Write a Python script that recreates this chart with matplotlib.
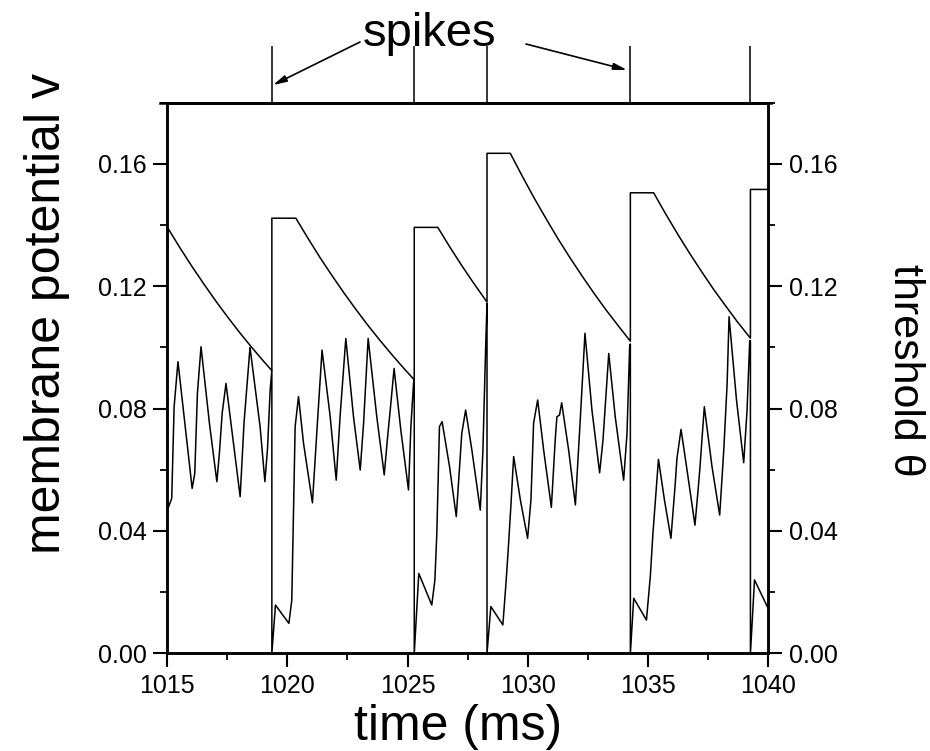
import matplotlib
matplotlib.use("Agg")
import matplotlib.pyplot as plt
from matplotlib.ticker import MultipleLocator, FormatStrFormatter

plt.rcParams["font.family"] = ["Liberation Sans", "DejaVu Sans"]

# membrane potential v (time in ms)
v_t = [
    1015.00, 1015.18, 1015.28, 1015.44, 1016.03, 1016.14, 1016.25, 1016.40,
    1016.75, 1017.06, 1017.17, 1017.28, 1017.44, 1018.03, 1018.19, 1018.44,
    1018.86, 1019.06, 1019.17, 1019.28, 1019.35,
    1019.35, 1019.50, 1020.06, 1020.18, 1020.32, 1020.46, 1020.67, 1021.04,
    1021.25, 1021.44, 1021.78, 1022.03, 1022.19, 1022.43, 1022.75, 1023.03,
    1023.17, 1023.36, 1023.72, 1024.03, 1024.19, 1024.28, 1024.44, 1024.72,
    1025.04, 1025.14, 1025.25, 1025.28,
    1025.28, 1025.47, 1026.01, 1026.14, 1026.22, 1026.33, 1026.44, 1026.75,
    1027.03, 1027.26, 1027.42, 1027.68, 1028.03, 1028.14, 1028.25, 1028.31,
    1028.31, 1028.47, 1028.97, 1029.11, 1029.21, 1029.31, 1029.42, 1029.70,
    1030.00, 1030.14, 1030.25, 1030.42, 1030.67, 1030.99, 1031.15, 1031.22,
    1031.33, 1031.42, 1031.71, 1031.99, 1032.20, 1032.39, 1032.68, 1033.00,
    1033.14, 1033.38, 1033.65, 1034.00, 1034.14, 1034.25, 1034.28,
    1034.28, 1034.42, 1034.95, 1035.11, 1035.22, 1035.45, 1035.70, 1035.97,
    1036.15, 1036.22, 1036.39, 1036.64, 1036.97, 1037.10, 1037.17, 1037.36,
    1037.68, 1038.00, 1038.17, 1038.31, 1038.39, 1038.70, 1039.00, 1039.14,
    1039.25, 1039.28,
    1039.28, 1039.45, 1039.95, 1040.00,
]
v_val = [
    0.0468, 0.0507, 0.0806, 0.0953, 0.0539, 0.0588, 0.0850, 0.1002,
    0.0752, 0.0561, 0.0659, 0.0784, 0.0882, 0.0512, 0.0752, 0.1000,
    0.0741, 0.0561, 0.0670, 0.0861, 0.0924,
    0.0000, 0.0158, 0.0098, 0.0174, 0.0741, 0.0839, 0.0686, 0.0492,
    0.0757, 0.0991, 0.0773, 0.0566, 0.0773, 0.1029, 0.0773, 0.0599,
    0.0752, 0.1029, 0.0773, 0.0583, 0.0724, 0.0795, 0.0931, 0.0730,
    0.0534, 0.0741, 0.0882, 0.0895,
    0.0000, 0.0261, 0.0158, 0.0240, 0.0392, 0.0741, 0.0757, 0.0610,
    0.0447, 0.0719, 0.0795, 0.0664, 0.0468, 0.0664, 0.0991, 0.1144,
    0.0000, 0.0153, 0.0093, 0.0240, 0.0359, 0.0490, 0.0643, 0.0501,
    0.0376, 0.0501, 0.0752, 0.0828, 0.0664, 0.0477, 0.0697, 0.0773,
    0.0779, 0.0819, 0.0664, 0.0485, 0.0773, 0.1046, 0.0795, 0.0590,
    0.0697, 0.0980, 0.0773, 0.0566, 0.0719, 0.1002, 0.1011,
    0.0000, 0.0180, 0.0109, 0.0251, 0.0392, 0.0634, 0.0501, 0.0376,
    0.0556, 0.0637, 0.0732, 0.0599, 0.0419, 0.0534, 0.0599, 0.0806,
    0.0610, 0.0452, 0.0664, 0.0882, 0.1100, 0.0828, 0.0623, 0.0795,
    0.1022, 0.1022,
    0.0000, 0.0240, 0.0158, 0.0150,
]

# threshold theta
theta_t = [
    1015.00, 1015.50, 1016.00, 1016.50, 1017.00, 1017.50, 1018.00, 1018.50,
    1019.00, 1019.35,
    1019.35, 1020.35, 1020.85, 1021.35, 1021.85, 1022.35, 1022.85, 1023.35,
    1023.85, 1024.35, 1024.85, 1025.28,
    1025.28, 1026.26, 1026.76, 1027.26, 1027.76, 1028.31,
    1028.31, 1029.28, 1029.78, 1030.28, 1030.78, 1031.28, 1031.78, 1032.28,
    1032.78, 1033.28, 1033.78, 1034.28,
    1034.28, 1035.25, 1035.75, 1036.25, 1036.75, 1037.25, 1037.75, 1038.25,
    1038.75, 1039.28,
    1039.28, 1040.00,
]
theta_val = [
    0.1392, 0.1328, 0.1267, 0.1209, 0.1153, 0.1100, 0.1049, 0.1001,
    0.0955, 0.0924,
    0.1422, 0.1422, 0.1357, 0.1294, 0.1235, 0.1178, 0.1124, 0.1072,
    0.1023, 0.0976, 0.0931, 0.0894,
    0.1392, 0.1392, 0.1328, 0.1267, 0.1209, 0.1148,
    0.1634, 0.1634, 0.1559, 0.1487, 0.1419, 0.1353, 0.1291, 0.1232,
    0.1175, 0.1121, 0.1070, 0.1020,
    0.1505, 0.1505, 0.1436, 0.1370, 0.1307, 0.1247, 0.1189, 0.1135,
    0.1082, 0.1030,
    0.1516, 0.1516,
]

spike_times = [1019.35, 1025.28, 1028.31, 1034.28, 1039.28]

fig = plt.figure(figsize=(9.3, 7.51), dpi=100)
ax = fig.add_axes([0.180, 0.130, 0.6455, 0.7335])

ax.plot(v_t, v_val, color="black", lw=1.1)
ax.plot(theta_t, theta_val, color="black", lw=1.1)

ax.set_xlim(1015, 1040)
ax.set_ylim(0, 0.18)

# spike raster above the frame
ax.vlines(spike_times, 0.18, 0.1985, color="black", lw=1.1, clip_on=False)
ax.plot([-0.012, 1.0055], [1, 1], transform=ax.transAxes, color="black",
        lw=1.8, clip_on=False)

ax.xaxis.set_major_locator(MultipleLocator(5))
ax.xaxis.set_minor_locator(MultipleLocator(2.5))
ax.yaxis.set_major_locator(MultipleLocator(0.04))
ax.yaxis.set_minor_locator(MultipleLocator(0.02))
ax.yaxis.set_major_formatter(FormatStrFormatter("%.2f"))

ax2 = ax.twinx()
ax2.set_ylim(0, 0.18)
ax2.yaxis.set_major_locator(MultipleLocator(0.04))
ax2.yaxis.set_minor_locator(MultipleLocator(0.02))
ax2.yaxis.set_major_formatter(FormatStrFormatter("%.2f"))

for a in (ax, ax2):
    a.tick_params(which="major", direction="out", length=10, width=1.5,
                  labelsize=18, pad=5)
    a.tick_params(which="minor", direction="out", length=5, width=1.3)
    for s in a.spines.values():
        s.set_linewidth(1.8)
ax.tick_params(top=False, right=False)
ax2.tick_params(left=False)

fig.text(458 / 930, 1 - 740 / 751, "time (ms)", fontsize=36,
         ha="center", va="baseline")
fig.text(47 / 930, 1 - 313 / 751, "membrane potential v", fontsize=36,
         rotation=90, ha="center", va="center")
fig.text(905 / 930, 1 - 370 / 751, "threshold θ", fontsize=31,
         rotation=-90, ha="center", va="center")

fig.text(430 / 930, 1 - 46 / 751, "spikes", fontsize=34,
         ha="center", va="baseline")
arrow = dict(arrowstyle="-|>,head_length=0.8,head_width=0.2",
             color="black", lw=1.2, shrinkA=0, shrinkB=0)
ax.annotate("", xy=(273, 751 - 85), xycoords="figure pixels",
            xytext=(360, 751 - 42), textcoords="figure pixels",
            arrowprops=arrow)
ax.annotate("", xy=(627, 751 - 70), xycoords="figure pixels",
            xytext=(526, 751 - 44), textcoords="figure pixels",
            arrowprops=arrow)

fig.savefig("out.png", dpi=100, facecolor="white")
